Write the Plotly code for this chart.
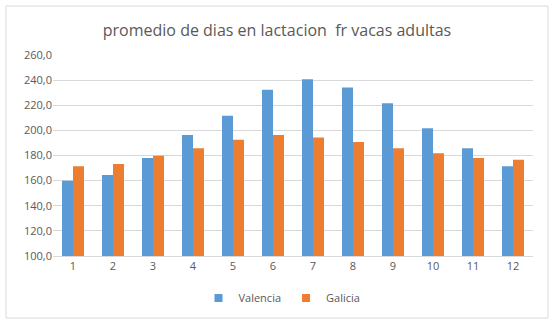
import plotly.graph_objects as go

meses = ["1", "2", "3", "4", "5", "6", "7", "8", "9", "10", "11", "12"]
valencia = [160.0, 164.5, 178.0, 196.3, 211.7, 232.4, 240.6, 234.2, 221.5, 201.6, 185.7, 171.4]
galicia = [171.4, 173.2, 179.8, 185.7, 192.6, 196.3, 194.4, 190.7, 185.7, 181.7, 178.0, 176.7]
y_ticks = [100, 120, 140, 160, 180, 200, 220, 240, 260]
y_tick_text = ["100,0", "120,0", "140,0", "160,0", "180,0", "200,0", "220,0", "240,0", "260,0"]

COL_V = "#5B9BD5"
COL_G = "#ED7D31"

W, H = 555, 325
L, R, T, B = 53, 22, 55, 69
pw, ph = W - L - R, H - T - B


def px_x(px):
    return (px - L) / pw


def px_y(py):
    return (H - B - py) / ph


fig = go.Figure()
fig.add_trace(go.Bar(name="Valencia", x=meses, y=valencia, marker_color=COL_V,
                     marker_line_width=0, showlegend=False))
fig.add_trace(go.Bar(name="Galicia", x=meses, y=galicia, marker_color=COL_G,
                     marker_line_width=0, showlegend=False))
# small square legend keys
for nombre, col in (("Valencia", COL_V), ("Galicia", COL_G)):
    fig.add_trace(go.Scatter(name=nombre, x=[None], y=[None], mode="markers",
                             marker=dict(symbol="square", size=8, color=col)))

fig.update_layout(
    width=W, height=H,
    margin=dict(l=L, r=R, t=T, b=B),
    paper_bgcolor="white", plot_bgcolor="white",
    barmode="group", bargap=0.45, bargroupgap=0,
    font=dict(family="Open Sans, Liberation Sans, sans-serif", color="#595959"),
    title=dict(text="promedio de dias en lactacion  fr vacas adultas",
               x=px_x(277), xref="paper", xanchor="center",
               y=1 - 30 / H, yanchor="middle",
               font=dict(size=16, color="#595959")),
    xaxis=dict(showgrid=False, showline=True, linecolor="#D9D9D9", linewidth=1,
               ticks="", tickfont=dict(size=11, color="#595959")),
    yaxis=dict(range=[100, 260], tickvals=y_ticks, ticktext=y_tick_text,
               showgrid=True, gridcolor="#D9D9D9", gridwidth=1, zeroline=False,
               showline=False, ticks="", tickfont=dict(size=11, color="#595959")),
    legend=dict(orientation="h", x=px_x(282), xanchor="center",
                y=px_y(298), yanchor="middle",
                font=dict(size=11, color="#595959"), itemwidth=30,
                traceorder="normal", tracegroupgap=0),
    shapes=[dict(type="rect", xref="paper", yref="paper",
                 x0=px_x(6), x1=px_x(548), y0=px_y(318), y1=px_y(6),
                 line=dict(color="#D9D9D9", width=1), fillcolor="rgba(0,0,0,0)",
                 layer="below")],
)

fig.write_html("out.html")
